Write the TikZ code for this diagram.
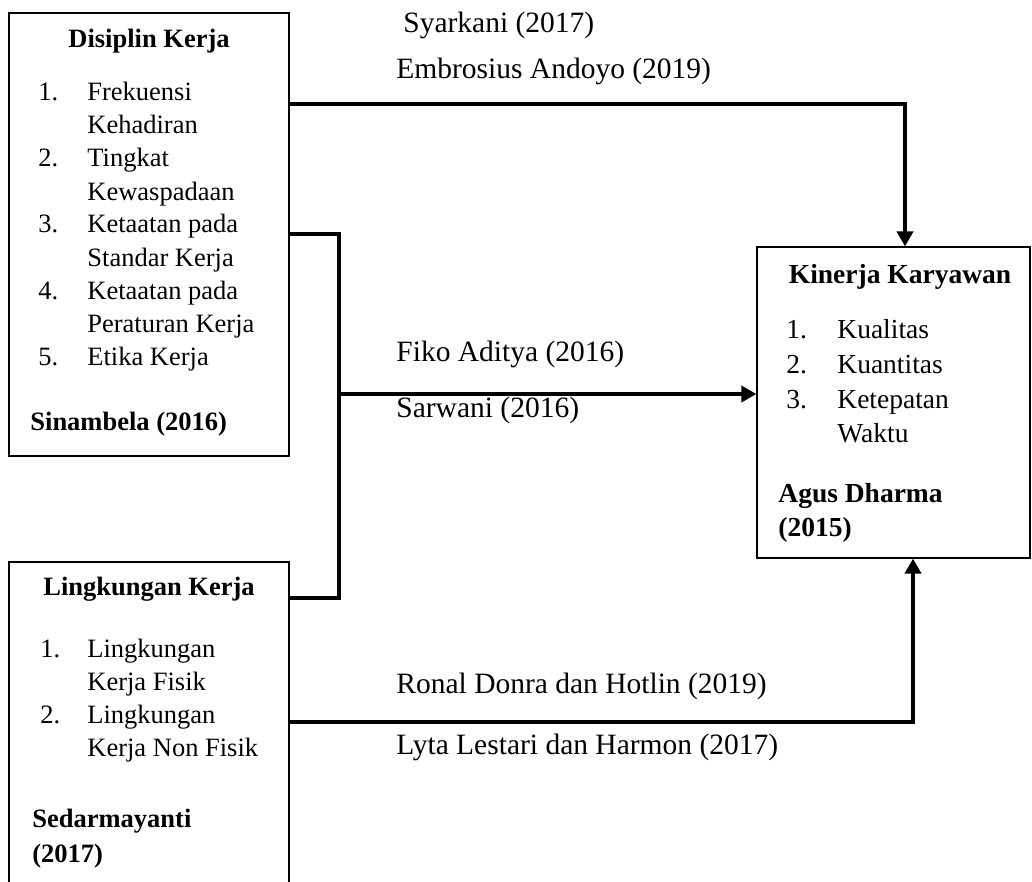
\documentclass[tikz,border=0pt]{standalone}
\usepackage{fontspec}
\setmainfont{Liberation Serif}
\usetikzlibrary{arrows.meta}

\tikzset{
  box/.style={draw, rectangle, line width=0.6pt, inner sep=0pt},
  conn/.style={line width=2pt},
  arr/.style={conn, -{Triangle[length=7.5pt,width=8pt]}},
  lbl/.style={anchor=base west, inner sep=0pt, font=\fontsize{14.75}{17}\selectfont},
  itm/.style={anchor=base west, inner sep=0pt, font=\fontsize{13.25}{16}\selectfont},
  itmb/.style={itm, font=\fontsize{13.25}{16}\selectfont\bfseries},
  ttl/.style={anchor=base, inner sep=0pt, font=\fontsize{13.25}{16}\selectfont\bfseries},
  itmk/.style={anchor=base west, inner sep=0pt, font=\fontsize{13.75}{17}\selectfont},
}

\begin{document}
\begin{tikzpicture}[x=0.5pt,y=-0.5pt]
\useasboundingbox (0,0) rectangle (1032,882);

% kotak variabel
\node[box, minimum width=140pt, minimum height=221.5pt] (disiplin) at (149,234.5) {};
\node[box, minimum width=140pt, minimum height=171.5pt] (lingkungan) at (149,733.5) {};
\node[box, minimum width=136.5pt, minimum height=155.5pt] (kinerja) at (893.5,402.5) {};

% Disiplin Kerja
\node[ttl] (disT) at (149,48) {Disiplin Kerja};
\node[itm] (dis1) at (38,101) {1.};
\node[itm] (dis1a) at (87,101) {Frekuensi};
\node[itm] (dis1b) at (87,134) {Kehadiran};
\node[itm] (dis2) at (38,167) {2.};
\node[itm] (dis2a) at (87,167) {Tingkat};
\node[itm] (dis2b) at (87,200) {Kewaspadaan};
\node[itm] (dis3) at (38,233) {3.};
\node[itm] (dis3a) at (87,233) {Ketaatan pada};
\node[itm] (dis3b) at (87,266) {Standar Kerja};
\node[itm] (dis4) at (38,299) {4.};
\node[itm] (dis4a) at (87,299) {Ketaatan pada};
\node[itm] (dis4b) at (87,332) {Peraturan Kerja};
\node[itm] (dis5) at (38,365) {5.};
\node[itm] (dis5a) at (87,365) {Etika Kerja};
\node[itmb] (disS) at (30,430) {Sinambela (2016)};

% Lingkungan Kerja
\node[ttl] (linT) at (149,595) {Lingkungan Kerja};
\node[itm] (lin1) at (40,657) {1.};
\node[itm] (lin1a) at (87,657) {Lingkungan};
\node[itm] (lin1b) at (87,690) {Kerja Fisik};
\node[itm] (lin2) at (40,723) {2.};
\node[itm] (lin2a) at (87,723) {Lingkungan};
\node[itm] (lin2b) at (87,756) {Kerja Non Fisik};
\node[itmb] (linS1) at (32,827) {Sedarmayanti};
\node[itmb] (linS2) at (32,862) {(2017)};

% Kinerja Karyawan
\node[ttl, font=\fontsize{13.75}{17}\selectfont\bfseries] (kinT) at (900,283) {Kinerja Karyawan};
\node[itmk] (kin1) at (786,338) {1.};
\node[itmk] (kin1a) at (837,338) {Kualitas};
\node[itmk] (kin2) at (786,373) {2.};
\node[itmk] (kin2a) at (837,373) {Kuantitas};
\node[itmk] (kin3) at (786,408) {3.};
\node[itmk] (kin3a) at (837,408) {Ketepatan};
\node[itmk] (kin3b) at (837,442) {Waktu};
\node[itmk, font=\fontsize{13.75}{17}\selectfont\bfseries] (kinS1) at (778,502) {Agus Dharma};
\node[itmk, font=\fontsize{13.75}{17}\selectfont\bfseries] (kinS2) at (778,536) {(2015)};

% garis penghubung
\coordinate (topR) at (905,104);
\draw[arr] (disiplin.east |- topR) -- (topR) -- (topR |- kinerja.north);

\coordinate (brT) at (339,234);
\coordinate (brM) at (339,394);
\coordinate (brB) at (339,598);
\draw[conn] (disiplin.east |- brT) -- (brT) -- (brB) -- (lingkungan.east |- brB);
\draw[arr] (brM) -- (kinerja.west |- brM);

\coordinate (botR) at (913,722);
\draw[arr] (lingkungan.east |- botR) -- (botR) -- (botR |- kinerja.south);

% label sumber
\node[lbl] (lblA) at (403,33) {Syarkani (2017)};
\node[lbl] (lblB) at (396,79) {Embrosius Andoyo (2019)};
\node[lbl] (lblC) at (396,361) {Fiko Aditya (2016)};
\node[lbl] (lblD) at (396,417) {Sarwani (2016)};
\node[lbl] (lblE) at (396,693) {Ronal Donra dan Hotlin (2019)};
\node[lbl] (lblF) at (396,754) {Lyta Lestari dan Harmon (2017)};
\end{tikzpicture}
\end{document}
